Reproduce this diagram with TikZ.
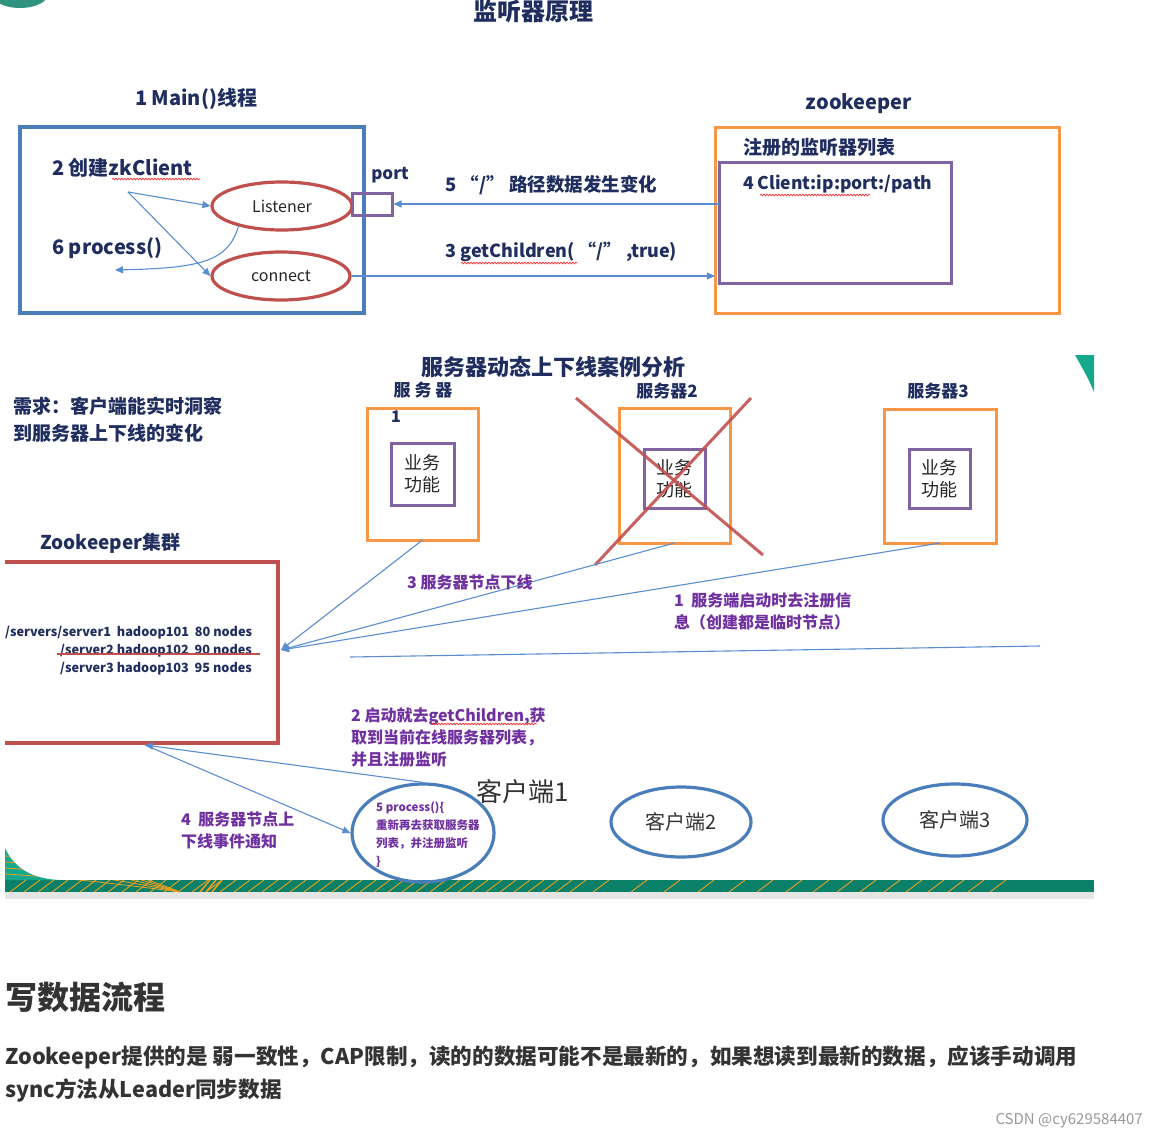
\documentclass[tikz,border=0pt]{standalone}
\usepackage{fontspec}
\setmainfont{Noto Sans CJK SC}
\usetikzlibrary{arrows.meta,shapes.geometric,decorations.pathmorphing}
\definecolor{navy}{HTML}{1F2D5F}
\definecolor{boxblue}{HTML}{4A7EBB}
\definecolor{linkblue}{HTML}{5B8ED0}
\definecolor{kred}{HTML}{C0504D}
\definecolor{korange}{HTML}{F79646}
\definecolor{kpurple}{HTML}{8064A2}
\definecolor{tpurple}{HTML}{7030A0}
\definecolor{kteal}{HTML}{16A88C}
\definecolor{kdteal}{HTML}{0B8068}
\definecolor{kstripe}{HTML}{F0A020}
\definecolor{bodytxt}{HTML}{333333}
\tikzset{
  navytxt/.style={font=\bfseries\fontsize{#1}{#1}\selectfont, text=navy, inner sep=0pt},
  ptxt/.style={font=\bfseries\fontsize{16}{22}\selectfont, text=tpurple, inner sep=0pt, align=left, anchor=west},
  arr/.style={draw=linkblue, line width=1.1pt, -{Triangle[length=8pt,width=7pt]}},
  plainlink/.style={draw=linkblue, line width=1.1pt},
  redell/.style={ellipse, draw=kred, line width=3.2pt, inner sep=0pt, font=\fontsize{16}{16}\selectfont, text=black!85},
  cliell/.style={ellipse, draw=boxblue, line width=3.2pt, inner sep=0pt, text=black!80},
  obox/.style={draw=korange, line width=3pt, inner sep=0pt, outer sep=0pt},
  pbox/.style={draw=kpurple, line width=3pt, inner sep=0pt, outer sep=0pt},
  bizbox/.style={pbox, align=center, font=\fontsize{18}{22}\selectfont, text=black!85},
  squig/.style={draw=red!80, line width=0.7pt, decorate, decoration={snake, amplitude=0.9pt, segment length=3pt}},
}
\begin{document}
\begin{tikzpicture}[x=1pt,y=-1pt]
\useasboundingbox[fill=white] (0,0) rectangle (1158,1140);
% ---------------- decorations of the slide ----------------
\begin{scope}
\clip (0,0) rectangle (1158,8);
\fill[kdteal!85] (20,-6) ellipse [x radius=28pt, y radius=14pt];
\end{scope}
\fill[kteal] (1075,355) -- (1094,355) -- (1094,392) .. controls (1088,378) .. (1075,355) -- cycle;
\fill[black!10] (5,892) rectangle (1094,899);
\fill[kdteal] (5,880) rectangle (1094,892);
\fill[kteal] (5,848) .. controls (14,868) and (32,879) .. (60,880) -- (5,880) -- cycle;
\begin{scope}
\clip (5,848) .. controls (14,868) and (32,879) .. (60,880) -- (1094,880) -- (1094,892) -- (5,892) -- cycle;
\foreach \r in {6,12,18,24,30}{
  \draw[kstripe, line width=0.8pt] (5,880-\r) .. controls (40,882-\r) and (90,886-\r) .. (180,892);
}
\foreach \x in {10,24,38,52,66,80,94,108,122,136,150,164,178,192,206,220,234,248,262,276,290,304,318,332,346,360,374,388,402,416,430,444,458,472,486,500,514,528,542,556,570,593,631,664,698,729,757,786,813,837,860,884,906,928,948,968,990}{
  \draw[kstripe, line width=0.9pt] (\x,892) -- (\x+16,880);
}
\foreach \x in {200,206,212}{
  \draw[kstripe, line width=1.5pt] (\x,892) -- (\x+10,880);
}
\end{scope}
% ---------------- top diagram ----------------
\node[navytxt=24] (title1) at (533,12) {监听器原理};
\node[navytxt=20] (mainlab) at (196,99) {1 Main()线程};
\node[navytxt=20] (zklab) at (859,104) {zookeeper};
\node[draw=boxblue, line width=3.5pt, minimum width=344pt, minimum height=186pt, inner sep=0pt] (mainbox) at (192,220) {};
\node[navytxt=20, anchor=west] (create) at (52,168) {2 创建zkClient};
\node[navytxt=20, anchor=west] (proc) at (52,248) {6 process()};
\node[redell, minimum width=140pt, minimum height=48pt] (listener) at (282,206) {Listener};
\node[redell, minimum width=138pt, minimum height=48pt] (connect) at (281,276) {connect};
\node[draw=kpurple, line width=3pt, minimum width=40pt, minimum height=22pt, inner sep=0pt] (port) at (372,204) {};
\node[navytxt=17] (portlab) at (390,175) {port};
\node[obox, minimum width=344pt, minimum height=186pt] (zkbox) at (887,220) {};
\node[navytxt=19, anchor=west] (reglab) at (743,147) {注册的监听器列表};
\node[pbox, minimum width=232pt, minimum height=121pt] (zkreg) at (835,222.5) {};
\node[navytxt=17.5, anchor=west] (clientpath) at (743,184) {4 Client:ip:port:/path};
\node[navytxt=18.5, anchor=west] (lab5) at (445,185) {5 “/” 路径数据发生变化};
\node[navytxt=18, anchor=west] (lab3) at (445,252) {3 getChildren( “/” ,true)};
\coordinate (split) at (128,192);
\coordinate (procend) at (115,270);
\draw[arr] (split) -- (listener.west);
\draw[arr] (split) -- (connect.west);
\draw[arr] (listener.205) .. controls (228,262) and (200,268) .. (procend);
\draw[arr] (zkreg.west |- port.east) -- (port.east);
\draw[arr] (connect.east) -- (connect.east -| zkbox.west);
\draw[squig] (112,179) -- (200,179);
\draw[squig] (760,195) -- (870,195);
\draw[squig] (461,263) -- (577,263);
% ---------------- second diagram ----------------
\node[navytxt=22] (title2) at (553,367) {服务器动态上下线案例分析};
\node[navytxt=19, align=left, anchor=west, font=\bfseries\fontsize{19}{27}\selectfont] (need) at (13,419.5) {需求：客户端能实时洞察\\到服务器上下线的变化};
\node[navytxt=17] (s1lab) at (423,390) {服 务 器};
\node[navytxt=16] (s1num) at (396,417) {1};
\node[navytxt=17] (s2lab) at (667,391) {服务器2};
\node[navytxt=17] (s3lab) at (938,391) {服务器3};
\node[obox, minimum width=111pt, minimum height=132pt] (s1) at (422.5,474) {};
\node[bizbox, minimum width=63pt, minimum height=62pt] (b1) at (422.5,474) {业务\\功能};
\node[obox, minimum width=111pt, minimum height=135pt] (s2) at (674.5,475.5) {};
\node[bizbox, minimum width=61pt, minimum height=59pt] (b2) at (674.5,478.5) {业务\\功能};
\node[obox, minimum width=112pt, minimum height=134pt] (s3) at (940,476) {};
\node[bizbox, minimum width=61pt, minimum height=59pt] (b3) at (939.5,478.5) {业务\\功能};
\coordinate (xa) at (576,398);
\coordinate (xb) at (763,555);
\coordinate (xc) at (751,398);
\coordinate (xd) at (595,565);
\draw[kred, opacity=0.9, line width=3pt] (xa) -- (xb);
\draw[kred, opacity=0.9, line width=3pt] (xc) -- (xd);
\node[navytxt=19, anchor=west] (zkclu) at (40,543) {Zookeeper集群};
\draw[kred, line width=3.2pt] (5,562) -- (278,562) -- (278,743) -- (5,743);
\node[navytxt=12.7, anchor=west] (n1) at (5,633) {/servers/server1\ \ hadoop101\ \ 80 nodes};
\node[navytxt=12.7, anchor=west] (n2) at (60,651) {/server2 hadoop102\ \ 90 nodes};
\node[navytxt=12.7, anchor=west] (n3) at (60,669) {/server3 hadoop103\ \ 95 nodes};
\draw[kred, line width=2.5pt] (57,654) -- (260,654);
\coordinate (zkin) at (281,650);
\coordinate (zkbot) at (145,745);
\draw[arr] (s1.south) -- (zkin);
\draw[arr] (s2.south) -- (zkin);
\draw[arr] (s3.south) -- (zkin);
\coordinate (la) at (350,657);
\coordinate (lb) at (1040,646);
\draw[plainlink] (la) -- (lb);
\node[ptxt] (p3) at (407,582) {3 服务器节点下线};
\node[ptxt] (p1) at (674,611) {1\ \ 服务端启动时去注册信\\息（创建都是临时节点）};
\node[ptxt] (p2) at (351,737) {2 启动就去getChildren,获\\取到当前在线服务器列表，\\并且注册监听};
\draw[squig] (432,724) -- (537,724);
\node[ptxt] (p4) at (181,830) {4\ \ 服务器节点上\\下线事件通知};
\node[cliell, minimum width=142pt, minimum height=98pt] (c1) at (423,833) {};
\node[ptxt, font=\bfseries\fontsize{11.5}{18}\selectfont] (c1txt) at (376,835) {5 process()\{\\重新再去获取服务器\\列表，并注册监听\\\}};
\node[inner sep=0pt, font=\fontsize{26}{26}\selectfont, text=black!80] (c1lab) at (523,792) {客户端1};
\node[cliell, minimum width=140pt, minimum height=70pt, font=\fontsize{20}{20}\selectfont] (c2) at (681,822) {客户端2};
\node[cliell, minimum width=144pt, minimum height=72pt, font=\fontsize{20}{20}\selectfont] (c3) at (955,820) {客户端3};
\draw[arr] (c1.north) -- (zkbot);
\draw[arr] (zkbot) -- (c1.west);
% ---------------- article text ----------------
\node[inner sep=0pt, anchor=west, font=\bfseries\fontsize{32}{32}\selectfont, text=bodytxt] (h) at (5,997) {写数据流程};
\node[inner sep=0pt, anchor=west, font=\bfseries\fontsize{21.6}{33}\selectfont, text=bodytxt, align=left] (body) at (5,1073.5) {Zookeeper提供的是 弱一致性，CAP限制，读的的数据可能不是最新的，如果想读到最新的数据，应该手动调用\\sync方法从Leader同步数据};
\node[inner sep=0pt, anchor=east, font=\fontsize{15}{15}\selectfont, text=black!40] (csdn) at (1143,1121) {CSDN @cy629584407};
\end{tikzpicture}
\end{document}
